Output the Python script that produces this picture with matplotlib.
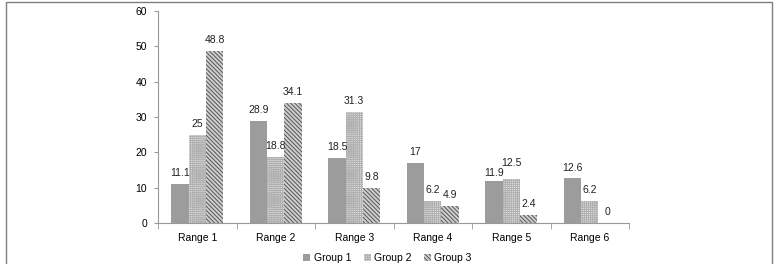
import numpy as np
import matplotlib.pyplot as plt
from matplotlib.patches import Rectangle

categories = ['Range 1', 'Range 2', 'Range 3', 'Range 4', 'Range 5', 'Range 6']
group1 = [11.1, 28.9, 18.5, 17, 11.9, 12.6]
group2 = [25, 18.8, 31.3, 6.2, 12.5, 6.2]
group3 = [48.8, 34.1, 9.8, 4.9, 2.4, 0]
series_names = ['Group 1', 'Group 2', 'Group 3']

plt.rcParams['font.family'] = ['Liberation Sans', 'DejaVu Sans']
plt.rcParams['hatch.linewidth'] = 0.7

fig = plt.figure(figsize=(7.75, 2.64), dpi=100)
ax = fig.add_axes([158 / 775, 1 - 223 / 264, (629 - 158) / 775, (223 - 11) / 264])

# outer frame
fig.patches.append(Rectangle((6 / 775, -0.1), (772 - 6) / 775, 1.1 - 2 / 264,
                             transform=fig.transFigure, fill=False,
                             edgecolor='#7f7f7f', linewidth=1.0))

x = np.arange(len(categories))
w = 0.22
styles = [
    dict(color='#9c9c9c', hatch=None, edge='#9c9c9c'),
    dict(color='#e2e2e2', hatch='++++++++', edge='#b0b0b0'),
    dict(color='#cfcfcf', hatch='\\\\\\\\\\\\\\\\', edge='#555555'),
]
# small manual nudges for crowded labels (series index, category index): extra offset
nudge = {(0, 4): -0.9, (1, 4): 1.4}
data = [group1, group2, group3]
for i, (vals, st, name) in enumerate(zip(data, styles, series_names)):
    pos = x + (i - 1) * w
    ax.bar(pos, vals, w, color=st['color'], label=name,
           hatch=st['hatch'], edgecolor=st['edge'], linewidth=0)
    for j, (p, v) in enumerate(zip(pos, vals)):
        ax.text(p, v + 3.1 + nudge.get((i, j), 0), f'{v:g}', ha='center', va='center',
                fontsize=7.5, color='#222222')

ax.set_xlim(-0.5, len(categories) - 0.5)
ax.set_ylim(0, 60)
ax.set_yticks(range(0, 61, 10))
ax.set_xticks(x)
ax.set_xticklabels(categories)
ax.set_xticks(np.arange(-0.5, len(categories), 1), minor=True)
ax.tick_params(axis='x', which='major', length=0, labelsize=7.5, pad=7)
ax.tick_params(axis='x', which='minor', length=4, color='#999999', direction='out')
ax.tick_params(axis='y', length=3, color='#999999', labelsize=7.5, pad=5)
for s in ['top', 'right']:
    ax.spines[s].set_visible(False)
for s in ['left', 'bottom']:
    ax.spines[s].set_color('#999999')
    ax.spines[s].set_linewidth(0.8)

fig.legend(loc='center', bbox_to_anchor=(0.5, 1 - 258 / 264), ncol=3, frameon=False,
           fontsize=7.5, handlelength=0.7, handleheight=0.7, handletextpad=0.3,
           columnspacing=1.2)

fig.savefig('out.png', dpi=100)
